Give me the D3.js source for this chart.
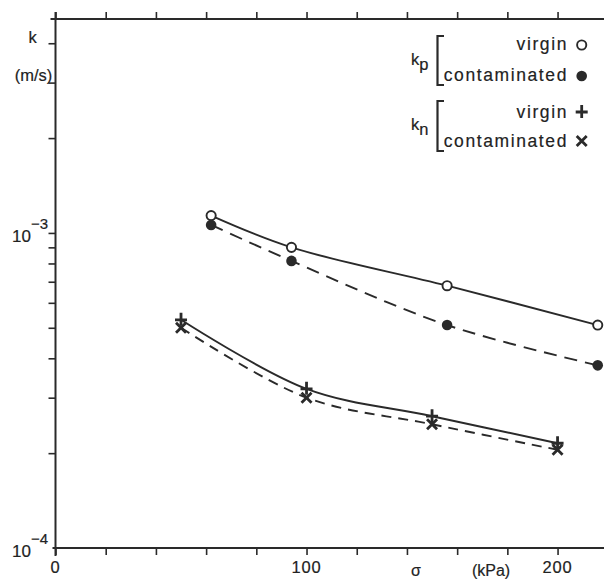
<!DOCTYPE html>
<html>
<head>
<meta charset="utf-8">
<script src="https://cdn.jsdelivr.net/npm/d3@7"></script>
<style>
  html, body { margin: 0; padding: 0; background: #fff; }
  svg { display: block; }
  text { font-family: "Liberation Sans", Arial, Helvetica, sans-serif; fill: #222; stroke: #222; stroke-width: 0.18px; }
</style>
</head>
<body>
<script>
// ---- data ----
const kpStress = [62, 94, 156, 216];          // kPa
const kpVirgin = [1.135e-3, 9.0e-4, 6.8e-4, 5.1e-4];
const kpContam = [1.06e-3, 8.15e-4, 5.1e-4, 3.8e-4];
const knStress = [50, 100, 150, 200];         // kPa
const knVirgin = [5.3e-4, 3.2e-4, 2.62e-4, 2.15e-4];
const knContam = [5.0e-4, 3.0e-4, 2.47e-4, 2.05e-4];
const xTickValues = [0, 20, 40, 60, 80, 100, 120, 140, 160, 180, 200];
const xTickLabels = [0, 100, 200];
const yMinorTicks = [2e-4, 3e-4, 4e-4, 5e-4, 6e-4, 7e-4, 8e-4, 9e-4, 1e-3, 2e-3, 3e-3, 4e-3];
const yDecadeLabels = [{v: 1e-3, exp: "−3"}, {v: 1e-4, exp: "−4"}];

const W = 604, H = 581;
const ink = "#2a2a2a";

const svg = d3.select("body").append("svg").attr("width", W).attr("height", H);

const x = d3.scaleLinear().domain([0, 218.5]).range([55.5, 604]);
const y = d3.scaleLog().domain([1e-4, Math.pow(10, -2.321)]).range([548, 19]);

// axes
const gTop = svg.append("g").attr("transform", `translate(0,${y.range()[1]})`)
  .call(d3.axisTop(x).tickValues(xTickValues).tickSize(7).tickFormat(""));
const gBot = svg.append("g").attr("transform", `translate(0,${y.range()[0]})`)
  .call(d3.axisBottom(x).tickValues(xTickValues).tickSize(7).tickFormat(""));
const gLeft = svg.append("g").attr("transform", `translate(${x(0)},0)`)
  .call(d3.axisLeft(y).tickValues(yMinorTicks).tickSize(7).tickFormat(""));
[gTop, gBot, gLeft].forEach(g => {
  g.selectAll("path.domain").attr("stroke", ink).attr("stroke-width", 2);
  g.selectAll(".tick line").attr("stroke", ink).attr("stroke-width", 1.6);
});
gTop.select("path.domain").attr("d", `M${x(0) - 5},0H${W}`);
gBot.select("path.domain").attr("d", `M${x(0) - 3},0H${W}`);
gLeft.select("path.domain").attr("d", `M0,${y.range()[1] - 7}V${y.range()[0] + 8}`);

// x tick labels
svg.append("g").selectAll("text").data(xTickLabels).join("text")
  .attr("x", d => x(d)).attr("y", 573)
  .attr("text-anchor", "middle").attr("font-size", 16.5).attr("letter-spacing", 0.8)
  .text(d => d);
svg.append("text").attr("x", 416).attr("y", 576).attr("text-anchor", "middle")
  .attr("font-size", 16).text("σ");
svg.append("text").attr("x", 491).attr("y", 576).attr("text-anchor", "middle")
  .attr("font-size", 16).text("(kPa)");

// y decade labels
yDecadeLabels.forEach(d => {
  const t = svg.append("text").attr("x", 12).attr("y", y(d.v) + 9).attr("font-size", 17);
  t.append("tspan").text("10");
  t.append("tspan").attr("dy", -13).attr("font-size", 15).text(d.exp);
});
svg.append("text").attr("x", 32.5).attr("y", 43).attr("text-anchor", "middle")
  .attr("font-size", 16.5).text("k");
svg.append("text").attr("x", 33.5).attr("y", 81).attr("text-anchor", "middle")
  .attr("font-size", 16.5).text("(m/s)");

// curves
const line = d3.line().x(d => x(d[0])).y(d => y(d[1])).curve(d3.curveCatmullRom.alpha(0.5));
const series = [
  {xs: kpStress, ys: kpVirgin, dash: null, mark: "open"},
  {xs: kpStress, ys: kpContam, dash: "13,8", mark: "filled"},
  {xs: knStress, ys: knVirgin, dash: null, mark: "plus"},
  {xs: knStress, ys: knContam, dash: "10,7", mark: "cross"}
];
series.forEach(s => {
  const pts = s.xs.map((v, i) => [v, s.ys[i]]);
  svg.append("path").datum(pts).attr("d", line)
    .attr("fill", "none").attr("stroke", ink).attr("stroke-width", 1.9)
    .attr("stroke-dasharray", s.dash);
});

function drawMark(g, kind, cx, cy) {
  if (kind === "open") {
    g.append("circle").attr("cx", cx).attr("cy", cy).attr("r", 4.6)
      .attr("fill", "#fff").attr("stroke", ink).attr("stroke-width", 1.9);
  } else if (kind === "filled") {
    g.append("circle").attr("cx", cx).attr("cy", cy).attr("r", 5.3).attr("fill", ink);
  } else if (kind === "plus") {
    g.append("path").attr("d", `M${cx - 6},${cy}H${cx + 6}M${cx},${cy - 7}V${cy + 6}`)
      .attr("stroke", ink).attr("stroke-width", 2.8).attr("fill", "none");
  } else {
    g.append("path").attr("d", `M${cx - 5},${cy - 5}L${cx + 5},${cy + 5}M${cx + 5},${cy - 5}L${cx - 5},${cy + 5}`)
      .attr("stroke", ink).attr("stroke-width", 2.8).attr("fill", "none");
  }
}
const gm = svg.append("g");
series.forEach(s => s.xs.forEach((v, i) => drawMark(gm, s.mark, x(v), y(s.ys[i]))));

// legend
const lg = svg.append("g");
const legendRows = [
  {label: "virgin", mark: "open", y: 50, my: 45},
  {label: "contaminated", mark: "filled", y: 81, my: 76},
  {label: "virgin", mark: "plus", y: 118, my: 112},
  {label: "contaminated", mark: "cross", y: 147, my: 141}
];
legendRows.forEach(r => {
  lg.append("text").attr("x", 568).attr("y", r.y).attr("text-anchor", "end")
    .attr("font-size", 17.5).attr("letter-spacing", 1.6).text(r.label);
  drawMark(lg, r.mark, 581.7, r.my);
});
[[36, 85, 65, "p"], [101, 151, 130, "n"]].forEach(([y0, y1, ty, sub]) => {
  lg.append("path").attr("d", `M${444},${y0}H${437.5}V${y1}H${444}`)
    .attr("fill", "none").attr("stroke", ink).attr("stroke-width", 2.2);
  const t = lg.append("text").attr("x", 411).attr("y", ty).attr("font-size", 16.5);
  t.append("tspan").text("k");
  t.append("tspan").attr("dy", 5).attr("font-size", 16.5).text(sub);
});
</script>
</body>
</html>
